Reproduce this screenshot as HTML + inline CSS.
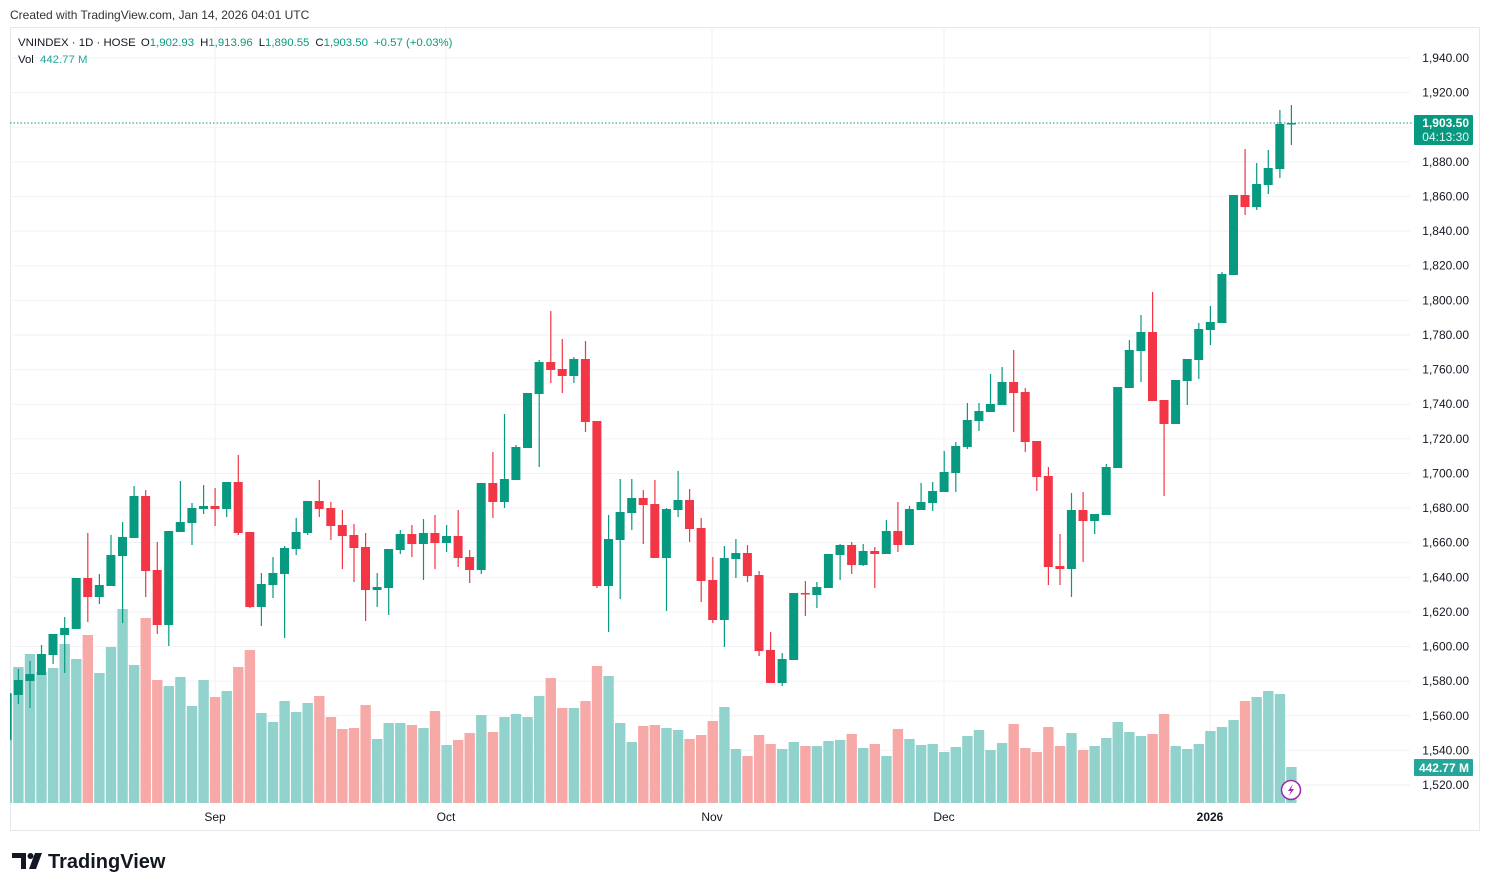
<!DOCTYPE html>
<html><head><meta charset="utf-8"><style>
body{margin:0;background:#fff;width:1489px;height:891px;overflow:hidden;font-family:"Liberation Sans",sans-serif;}
</style></head><body>
<svg id="s" width="1489" height="891" xmlns="http://www.w3.org/2000/svg" style="position:absolute;left:0;top:0;font-family:'Liberation Sans',sans-serif">
<text x="10" y="19" font-size="12" fill="#333">Created with TradingView.com, Jan 14, 2026 04:01 UTC</text>
<rect x="10.5" y="27.5" width="1469" height="803" fill="#fff" stroke="#e6e8ee"/>
<g id="grid"></g>
<g id="vol"></g>
<g id="cand"></g>
<line x1="10" y1="123" x2="1412" y2="123" stroke="#089981" stroke-dasharray="1.5 2"/>
<g id="axis" font-size="12" fill="#131722" text-anchor="end"></g>
<rect x="1414" y="115" width="59" height="30" fill="#089981" rx="1"/>
<text x="1469" y="127" font-size="12" fill="#fff" text-anchor="end" font-weight="bold">1,903.50</text>
<text x="1469" y="141" font-size="12" fill="#e6f5f2" text-anchor="end">04:13:30</text>
<rect x="1414" y="759" width="59" height="17" fill="#26a69a" rx="1"/>
<text x="1469" y="772" font-size="12" fill="#fff" text-anchor="end" font-weight="bold">442.77 M</text>
<g font-size="12" fill="#131722" text-anchor="middle">
<text x="215" y="821">Sep</text><text x="446" y="821">Oct</text><text x="712" y="821">Nov</text><text x="944" y="821">Dec</text><text x="1210" y="821" font-weight="bold">2026</text>
</g>
<circle cx="1291" cy="790" r="9.5" fill="#fff" stroke="#9c27b0" stroke-width="1.5"/>
<path d="M1293 784 L1288 791 L1291 791 L1289 796 L1294 789 L1291 789 Z" fill="#9c27b0"/>
<text x="18" y="46" font-size="11.4" fill="#131722">VNINDEX · 1D · HOSE <tspan dx="2">O</tspan><tspan fill="#089981">1,902.93</tspan><tspan dx="6">H</tspan><tspan fill="#089981">1,913.96</tspan><tspan dx="6">L</tspan><tspan fill="#089981">1,890.55</tspan><tspan dx="6">C</tspan><tspan fill="#089981">1,903.50</tspan><tspan dx="6" fill="#089981">+0.57 (+0.03%)</tspan></text>
<text x="18" y="63" font-size="11.4" fill="#131722">Vol <tspan dx="3" fill="#26a69a">442.77 M</tspan></text>
<g fill="#131722">
<path d="M12 853 H26 V869 H21 V858 H12 Z"/>
<circle cx="30.5" cy="856" r="3"/>
<path d="M35 853 H42 L36 869 H29 Z"/>
</g>
<text x="48" y="868" font-size="20" font-weight="bold" fill="#131722">TradingView</text>
</svg>
<script>
var D=[[680,695,669,704,667,'g'],[674,681,661,708,654,'g'],[654,675,645,675,672,'g'],[634,655,634,664,668,'g'],[628,635,617,673,644,'g'],[578,629,578,629,659,'g'],[578,597,533,622,635,'r'],[585,597,574,604,673,'g'],[555,586,535,586,647,'g'],[537,556,522,623,609,'g'],[496,538,486,538,665,'g'],[496,571,490,597,618,'r'],[570,625,542,634,680,'r'],[531,625,531,646,686,'g'],[522,532,481,532,677,'g'],[508,523,503,545,706,'g'],[506,509,485,514,680,'g'],[506,509,488,526,697,'r'],[482,509,482,517,691,'g'],[482,533,455,535,667,'r'],[532,607,532,608,650,'r'],[584,607,573,626,713,'g'],[573,585,557,598,722,'g'],[548,574,546,638,701,'g'],[532,549,518,555,712,'g'],[501,533,501,535,703,'g'],[501,509,480,517,696,'r'],[508,526,502,540,717,'r'],[525,536,510,569,729,'r'],[535,548,524,582,728,'r'],[547,590,533,621,705,'r'],[587,590,573,607,739,'g'],[549,588,549,615,723,'g'],[534,550,530,554,723,'g'],[534,544,525,557,725,'r'],[533,544,519,580,728,'g'],[533,543,515,569,711,'r'],[536,543,525,552,745,'g'],[536,558,510,567,740,'r'],[557,570,550,583,733,'r'],[483,570,483,574,715,'g'],[483,502,452,518,732,'r'],[479,502,414,508,717,'g'],[447,480,445,480,714,'g'],[393,448,393,448,717,'g'],[362,394,360,467,696,'g'],[362,370,311,383,678,'r'],[369,376,339,393,708,'r'],[359,376,357,383,708,'g'],[359,422,341,432,701,'r'],[421,586,421,588,666,'r'],[539,586,515,632,676,'g'],[512,540,479,599,723,'g'],[498,513,479,530,742,'g'],[498,505,490,544,726,'r'],[504,558,480,558,725,'r'],[509,558,508,611,728,'g'],[500,510,471,517,730,'g'],[500,529,489,542,739,'r'],[528,581,518,602,735,'r'],[580,620,557,623,721,'r'],[558,620,546,647,707,'g'],[553,559,539,578,749,'g'],[553,576,545,582,756,'r'],[575,651,571,656,735,'r'],[650,683,632,683,744,'r'],[659,683,653,686,749,'g'],[593,660,593,660,742,'g'],[593,594,581,616,746,'r'],[587,595,582,608,746,'g'],[554,588,554,588,741,'g'],[545,555,544,580,740,'g'],[545,565,542,574,734,'r'],[551,565,544,566,748,'g'],[551,554,547,588,744,'r'],[531,554,520,554,756,'g'],[531,545,502,552,729,'r'],[509,545,506,545,739,'g'],[502,510,483,510,745,'g'],[491,503,482,511,744,'g'],[472,492,451,492,752,'g'],[446,473,442,492,747,'g'],[420,447,403,449,736,'g'],[411,421,403,431,730,'g'],[404,412,374,412,750,'g'],[382,405,367,405,743,'g'],[382,393,350,432,724,'r'],[392,442,388,452,748,'r'],[441,477,441,491,752,'r'],[476,567,467,585,727,'r'],[566,569,534,585,746,'r'],[510,569,493,597,733,'g'],[510,521,492,562,750,'r'],[514,521,514,534,746,'g'],[467,515,464,515,738,'g'],[387,468,387,468,722,'g'],[350,388,340,388,732,'g'],[332,351,315,382,736,'g'],[332,401,292,401,734,'r'],[400,424,400,496,714,'r'],[380,424,380,424,746,'g'],[359,381,359,405,749,'g'],[329,360,323,379,744,'g'],[322,330,306,345,731,'g'],[274,323,272,323,727,'g'],[195,275,195,275,720,'g'],[195,207,149,215,701,'r'],[184,207,163,210,697,'g'],[168,185,150,194,691,'g'],[124,169,110,178,694,'g'],[123,124,105,145,767,'g']];
var NS='http://www.w3.org/2000/svg';
function el(p,t,a){var e=document.createElementNS(NS,t);for(var k in a)e.setAttribute(k,a[k]);p.appendChild(e);return e;}
var g=document.getElementById('grid'),v=document.getElementById('vol'),c=document.getElementById('cand'),ax=document.getElementById('axis');
for(var i=0;i<=21;i++){var y=58+i*34.62;el(g,'line',{x1:10,x2:1410,y1:y,y2:y,stroke:'#f0f2f6'});
var p=1940-i*20;var t=el(ax,'text',{x:1469,y:y+4});t.textContent=p.toLocaleString('en-US')+'.00';}
[215,446,712,944,1210].forEach(function(x){el(g,'line',{x1:x,x2:x,y1:28,y2:803,stroke:'#f0f2f6'});});
el(v,'rect',{x:10,y:694,width:2,height:109,fill:'#92d2cc'});
el(c,'rect',{x:10,y:693,width:1.5,height:47,fill:'#089981'});
for(var i=0;i<D.length;i++){var d=D[i],x=18.3+i*11.573,col=d[5]=='g'?'#089981':'#f23645',vc=d[5]=='g'?'#92d2cc':'#f7a9a7';
el(v,'rect',{x:(x-5.1).toFixed(1),y:d[4],width:10.4,height:803-d[4],fill:vc});
el(c,'rect',{x:(x-0.5).toFixed(1),y:d[2],width:1.2,height:Math.max(1,d[3]-d[2]),fill:col});
el(c,'rect',{x:(x-4.5).toFixed(1),y:d[0],width:9,height:Math.max(1.5,d[1]-d[0]),fill:col});}
</script>
</body></html>
